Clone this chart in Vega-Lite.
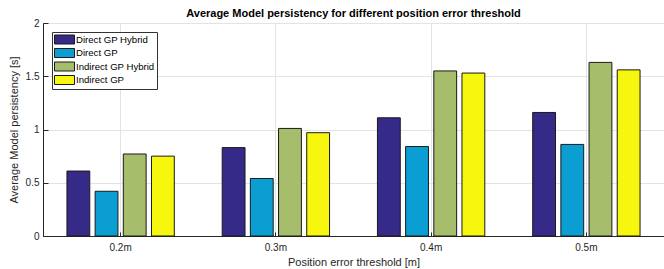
{
  "$schema": "https://vega.github.io/schema/vega-lite/v6.json",
  "width": 621,
  "height": 213,
  "autosize": {"type": "none"},
  "padding": {"left": 43, "top": 23, "right": 0, "bottom": 33},
  "background": "white",
  "title": {
    "text": "Average Model persistency for different position error threshold",
    "font": "Liberation Sans",
    "fontSize": 11,
    "fontWeight": "bold",
    "color": "#000000",
    "anchor": "middle",
    "offset": 6,
    "dy": 7
  },
  "config": {
    "font": "Liberation Sans",
    "view": {"stroke": "#262626", "strokeWidth": 1}
  },
  "data": {
    "values": [
      {"threshold": "0.2m", "method": "Direct GP Hybrid", "value": 0.61},
      {"threshold": "0.2m", "method": "Direct GP", "value": 0.42},
      {"threshold": "0.2m", "method": "Indirect GP Hybrid", "value": 0.77},
      {"threshold": "0.2m", "method": "Indirect GP", "value": 0.75},
      {"threshold": "0.3m", "method": "Direct GP Hybrid", "value": 0.83},
      {"threshold": "0.3m", "method": "Direct GP", "value": 0.54},
      {"threshold": "0.3m", "method": "Indirect GP Hybrid", "value": 1.01},
      {"threshold": "0.3m", "method": "Indirect GP", "value": 0.97},
      {"threshold": "0.4m", "method": "Direct GP Hybrid", "value": 1.11},
      {"threshold": "0.4m", "method": "Direct GP", "value": 0.84},
      {"threshold": "0.4m", "method": "Indirect GP Hybrid", "value": 1.55},
      {"threshold": "0.4m", "method": "Indirect GP", "value": 1.53},
      {"threshold": "0.5m", "method": "Direct GP Hybrid", "value": 1.16},
      {"threshold": "0.5m", "method": "Direct GP", "value": 0.86},
      {"threshold": "0.5m", "method": "Indirect GP Hybrid", "value": 1.63},
      {"threshold": "0.5m", "method": "Indirect GP", "value": 1.56}
    ]
  },
  "mark": {"type": "bar", "stroke": "#1a1a1a", "strokeWidth": 1},
  "encoding": {
    "x": {
      "field": "threshold",
      "type": "nominal",
      "scale": {"paddingInner": 0.274, "paddingOuter": 0.137},
      "axis": {
        "orient": "bottom",
        "title": "Position error threshold [m]",
        "labelAngle": 0,
        "labelFontSize": 10,
        "labelColor": "#262626",
        "labelPadding": 10,
        "titleFontSize": 11,
        "titleFontWeight": "normal",
        "titleColor": "#262626",
        "titlePadding": 4,
        "domainColor": "#262626",
        "tickColor": "#262626",
        "tickSize": -4,
        "grid": true,
        "gridColor": "#e3e3e3"
      }
    },
    "xOffset": {
      "field": "method",
      "type": "nominal",
      "sort": ["Direct GP Hybrid", "Direct GP", "Indirect GP Hybrid", "Indirect GP"],
      "scale": {"paddingInner": 0.19, "paddingOuter": 0.095}
    },
    "y": {
      "field": "value",
      "type": "quantitative",
      "scale": {"domain": [0, 2], "nice": false},
      "axis": {
        "orient": "left",
        "title": "Average Model persistency [s]",
        "values": [0, 0.5, 1, 1.5, 2],
        "format": "~g",
        "labelFontSize": 10,
        "labelColor": "#262626",
        "labelPadding": 9,
        "titleFontSize": 11,
        "titleFontWeight": "normal",
        "titleColor": "#262626",
        "titlePadding": 6,
        "domainColor": "#262626",
        "tickColor": "#262626",
        "tickSize": -5,
        "grid": true,
        "gridColor": "#e3e3e3"
      }
    },
    "fill": {
      "field": "method",
      "type": "nominal",
      "sort": ["Direct GP Hybrid", "Direct GP", "Indirect GP Hybrid", "Indirect GP"],
      "scale": {
        "domain": ["Direct GP Hybrid", "Direct GP", "Indirect GP Hybrid", "Indirect GP"],
        "range": ["#352a87", "#0a9ed2", "#a6bd6b", "#f6f60e"]
      },
      "legend": {
        "title": null,
        "orient": "none",
        "legendX": 9,
        "legendY": 9,
        "direction": "vertical",
        "symbolType": "M-1,-0.9H3V0.9H-1Z",
        "symbolSize": 100,
        "symbolStrokeColor": "#1a1a1a",
        "symbolStrokeWidth": 1,
        "symbolOpacity": 1,
        "labelFontSize": 9.6,
        "labelColor": "#000000",
        "labelOffset": 11,
        "rowPadding": 0.5,
        "padding": 2,
        "strokeColor": "#333333",
        "fillColor": "white"
      }
    }
  }
}
